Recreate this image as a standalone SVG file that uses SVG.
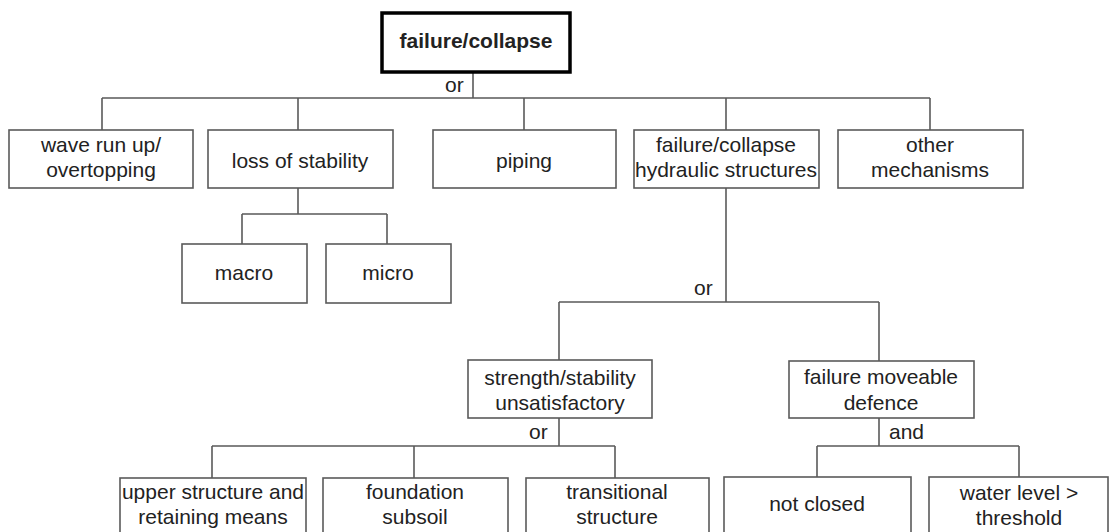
<svg xmlns="http://www.w3.org/2000/svg" width="1109" height="532" viewBox="0 0 1109 532">
<style>
.box{fill:#fff;stroke:#5a5a5a;stroke-width:1.6}
.root{fill:#fff;stroke:#000;stroke-width:3.5}
.ln{fill:none;stroke:#5a5a5a;stroke-width:1.6}
text{font-family:"Liberation Sans",Arial,sans-serif;font-size:21px;fill:#222;text-anchor:middle}
.b{font-weight:bold}
.lab{text-anchor:start}
</style>
<rect width="1109" height="532" fill="#fff"/>
<g id="connectors">
<path class="ln" d="M473,72 V98 M102,98 H930 M102,98 V130 M298,98 V130 M524,98 V130 M726,98 V130 M930,98 V130"/>
<path class="ln" d="M298,188 V214 M242,214 H387 M242,214 V244 M387,214 V244"/>
<path class="ln" d="M726,188 V302 M559,302 H879 M559,302 V360 M879,302 V361"/>
<path class="ln" d="M559,418 V446 M212,446 H615 M212,446 V478 M414,446 V478 M615,446 V478"/>
<path class="ln" d="M879,418 V446 M817,446 H1019 M817,446 V477 M1019,446 V477"/>
<text class="lab" x="445" y="92">or</text>
<text class="lab" x="694" y="295">or</text>
<text class="lab" x="529" y="439">or</text>
<text class="lab" x="889" y="439">and</text>
</g>
<g id="n-root"><rect class="root" x="382" y="13" width="188" height="59"/><text class="b" x="476" y="48">failure/collapse</text></g>
<g id="n-wave"><rect class="box" x="9" y="130" width="184" height="58"/><text x="101" y="152">wave run up/</text><text x="101" y="177">overtopping</text></g>
<g id="n-loss"><rect class="box" x="208" y="130" width="185" height="58"/><text x="300" y="168">loss of stability</text></g>
<g id="n-piping"><rect class="box" x="433" y="130" width="183" height="58"/><text x="524" y="168">piping</text></g>
<g id="n-hydraulic"><rect class="box" x="634" y="130" width="185" height="58"/><text x="726" y="152">failure/collapse</text><text x="726" y="177">hydraulic structures</text></g>
<g id="n-other"><rect class="box" x="838" y="130" width="185" height="58"/><text x="930" y="152">other</text><text x="930" y="177">mechanisms</text></g>
<g id="n-macro"><rect class="box" x="182" y="244" width="125" height="59"/><text x="244" y="280">macro</text></g>
<g id="n-micro"><rect class="box" x="326" y="244" width="125" height="59"/><text x="388" y="280">micro</text></g>
<g id="n-strength"><rect class="box" x="468" y="360" width="184" height="58"/><text x="560" y="385">strength/stability</text><text x="560" y="410">unsatisfactory</text></g>
<g id="n-moveable"><rect class="box" x="789" y="361" width="185" height="57"/><text x="881" y="384">failure moveable</text><text x="881" y="410">defence</text></g>
<g id="n-upper"><rect class="box" x="120" y="478" width="186" height="70"/><text x="213" y="499">upper structure and</text><text x="213" y="524">retaining means</text></g>
<g id="n-foundation"><rect class="box" x="323" y="478" width="185" height="70"/><text x="415" y="499">foundation</text><text x="415" y="524">subsoil</text></g>
<g id="n-transitional"><rect class="box" x="526" y="478" width="183" height="70"/><text x="617" y="499">transitional</text><text x="617" y="524">structure</text></g>
<g id="n-notclosed"><rect class="box" x="724" y="477" width="187" height="70"/><text x="817" y="511">not closed</text></g>
<g id="n-water"><rect class="box" x="929" y="477" width="179" height="70"/><text x="1019" y="500">water level &gt;</text><text x="1019" y="525">threshold</text></g>
</svg>
